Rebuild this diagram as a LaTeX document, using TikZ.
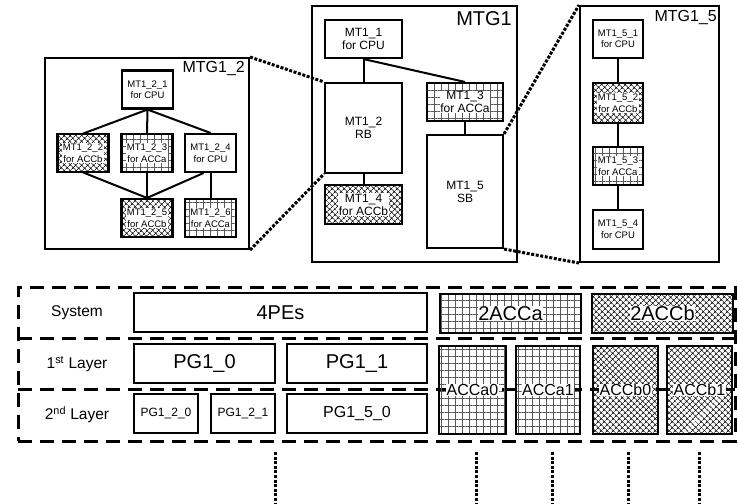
\documentclass[tikz,border=0pt]{standalone}
\usepackage{fontspec}
\setmainfont{Liberation Sans}
\usetikzlibrary{positioning,patterns.meta}
\tikzset{
  grp/.style={draw,line width=2pt,inner sep=0pt},
  grplbl/.style={font=\fontsize{16}{18}\selectfont,inner sep=0pt},
  mt/.style={draw,line width=2.1pt,align=center,inner sep=0pt,font=\fontsize{12}{13}\selectfont},
  mtsm/.style={mt,minimum width=51pt,minimum height=38pt,font=\fontsize{9.5}{11.5}\selectfont},
  pg/.style={draw,line width=2.1pt,inner sep=0pt,minimum height=39pt,font=\fontsize{20}{22}\selectfont},
  rowlbl/.style={font=\fontsize{15.5}{17}\selectfont,inner sep=0pt},
  txtbg/.style={fill=white,inner sep=0.6pt,align=center},
  gridfill/.style={pattern={Hatch[angle=0,distance=7pt,line width=0.55pt]},pattern color=black!65},
  hatchfill/.style={pattern={Hatch[angle=45,distance=4pt,line width=0.8pt]},pattern color=black!90},
  lab/.style 2 args={label={[txtbg,font=#1]center:#2}},
  link/.style={line width=2pt},
  zoomln/.style={line width=3pt,dash pattern=on 3pt off 1.6pt},
  layer/.style={line width=3pt,dash pattern=on 14pt off 8pt}
}
\newcommand\fmt{\fontsize{9.5}{11.5}\selectfont}
\newcommand\fmid{\fontsize{12}{13}\selectfont}

\begin{document}
\begin{tikzpicture}[x=1pt,y=-1pt]
\useasboundingbox (0,0) rectangle (738,503);
% MTG1_2
\node[grp,minimum width=204pt,minimum height=191pt] (mtg12) at (147,153.5) {};
\node[grplbl,below left=4pt and 5pt of mtg12.north east] (mtg12t) {MTG1\_2};
\node[mtsm] (mt121) at (147.5,89.5) {MT1\_2\_1\\for CPU};
\node[mtsm,hatchfill,lab={\fmt}{MT1\_2\_2\\for ACCb}] (mt122) at (83,153) {};
\node[mtsm,gridfill,lab={\fmt}{MT1\_2\_3\\for ACCa}] (mt123) at (147,153) {};
\node[mtsm] (mt124) at (210.5,153) {MT1\_2\_4\\for CPU};
\node[mtsm,hatchfill,lab={\fmt}{MT1\_2\_5\\for ACCb}] (mt125) at (147,218) {};
\node[mtsm,gridfill,lab={\fmt}{MT1\_2\_6\\for ACCa}] (mt126) at (210.5,218) {};
\draw[link] (mt121.south) -- (mt122.north);
\draw[link] (mt121.south) -- (mt123.north);
\draw[link] (mt121.south) -- (mt124.north);
\draw[link] (mt122.south) -- (mt125.north);
\draw[link] (mt123.south) -- (mt125.north);
\draw[link] ([xshift=-7pt]mt124.south) -- (mt125.north);
\draw[link] (mt124.south) -- (mt126.north);
% MTG1
\node[grp,minimum width=205pt,minimum height=256pt] (mtg1) at (414.5,134) {};
\node[grplbl,font=\fontsize{20}{22}\selectfont,below left=6pt and 6pt of mtg1.north east] (mtg1t) {MTG1};
\node[mt,minimum width=77pt,minimum height=38pt] (mt11) at (363.5,39) {MT1\_1\\for CPU};
\node[mt,minimum width=77pt,minimum height=90pt] (mt12) at (363.5,128) {MT1\_2\\RB};
\node[mt,minimum width=77pt,minimum height=39pt,hatchfill,lab={\fmid}{MT1\_4\\for ACCb}] (mt14) at (363.5,204.5) {};
\node[mt,minimum width=76pt,minimum height=38pt,gridfill,lab={\fmid}{MT1\_3\\for ACCa}] (mt13) at (465,102) {};
\node[mt,minimum width=76pt,minimum height=113pt] (mt15) at (465,191.5) {MT1\_5\\SB};
\draw[link] (mt11.south) -- (mt12.north);
\draw[link] (mt11.south) -- (mt13.north);
\draw[link] (mt12.south) -- (mt14.north);
\draw[link] (mt13.south) -- (mt15.north);
% MTG1_5
\node[grp,minimum width=139pt,minimum height=256pt] (mtg15) at (649.5,134) {};
\node[grplbl,below left=5pt and 3pt of mtg15.north east] (mtg15t) {MTG1\_5};
\node[mtsm,minimum width=50pt] (mt151) at (618,39) {MT1\_5\_1\\for CPU};
\node[mtsm,minimum width=50pt,minimum height=40pt,hatchfill,lab={\fmt}{MT1\_5\_2\\for ACCb}] (mt152) at (618,103) {};
\node[mtsm,minimum width=50pt,gridfill,lab={\fmt}{MT1\_5\_3\\for ACCa}] (mt153) at (618,166) {};
\node[mtsm,minimum width=50pt,minimum height=39pt] (mt154) at (618,229.5) {MT1\_5\_4\\for CPU};
\draw[link] (mt151.south) -- (mt152.north);
\draw[link] (mt152.south) -- (mt153.north);
\draw[link] (mt153.south) -- (mt154.north);
% zoom lines
\draw[zoomln] (mtg12.north east) -- (mt12.north west);
\draw[zoomln] (mtg12.south east) -- (mt12.south west);
\draw[zoomln] (mt15.north east) -- (mtg15.north west);
\draw[zoomln] (mt15.south east) -- (mtg15.south west);
% layers
\node[draw,layer,minimum width=717pt,minimum height=154pt,inner sep=0pt] (frame) at (376.5,364) {};
\draw[layer] (18,338) -- (735,338);
\draw[layer] (18,389) -- (735,389);
\node[rowlbl] (sys) at (77,313) {System};
\node[rowlbl] (lay1) at (77,364) {1\textsuperscript{st} Layer};
\node[rowlbl] (lay2) at (77,415) {2\textsuperscript{nd} Layer};
\node[pg,minimum width=293pt] (pes4) at (280.5,312.5) {4PEs};
\node[pg,minimum width=141pt,gridfill,lab={\fontsize{20}{22}\selectfont}{2ACCa}] (acca2) at (510.5,313.5) {};
\node[pg,minimum width=141pt,hatchfill,lab={\fontsize{20}{22}\selectfont}{2ACCb}] (accb2) at (662.5,313.5) {};
\node[pg,minimum width=141pt] (pg10) at (204.5,363.5) {PG1\_0};
\node[pg,minimum width=140pt] (pg11) at (357,363.5) {PG1\_1};
\node[pg,minimum width=64pt,font=\fontsize{12}{13}\selectfont] (pg120) at (166,413.5) {PG1\_2\_0};
\node[pg,minimum width=64pt,font=\fontsize{12}{13}\selectfont] (pg121) at (243,413.5) {PG1\_2\_1};
\node[pg,minimum width=140pt,font=\fontsize{16}{18}\selectfont] (pg150) at (357,413.5) {PG1\_5\_0};
\node[pg,minimum width=67pt,minimum height=88pt,gridfill,lab={\fontsize{16}{18}\selectfont}{ACCa0}] (acca0) at (472.5,390) {};
\node[pg,minimum width=64pt,minimum height=88pt,gridfill,lab={\fontsize{16}{18}\selectfont}{ACCa1}] (acca1) at (548,390) {};
\node[pg,minimum width=65pt,minimum height=88pt,hatchfill,lab={\fontsize{16}{18}\selectfont}{ACCb0}] (accb0) at (625.5,390) {};
\node[pg,minimum width=65pt,minimum height=88pt,hatchfill,lab={\fontsize{16}{18}\selectfont}{ACCb1}] (accb1) at (699.5,390) {};
% links down
\coordinate (da) at (275,452); \coordinate (ea) at (275,503);
\coordinate (db) at (476,452); \coordinate (eb) at (476,503);
\coordinate (dc) at (552,452); \coordinate (ec) at (552,503);
\coordinate (dd) at (628,452); \coordinate (ed) at (628,503);
\coordinate (de) at (699,452); \coordinate (ee) at (699,503);
\draw[zoomln] (da) -- (ea);
\draw[zoomln] (db) -- (eb);
\draw[zoomln] (dc) -- (ec);
\draw[zoomln] (dd) -- (ed);
\draw[zoomln] (de) -- (ee);
\end{tikzpicture}
\end{document}
